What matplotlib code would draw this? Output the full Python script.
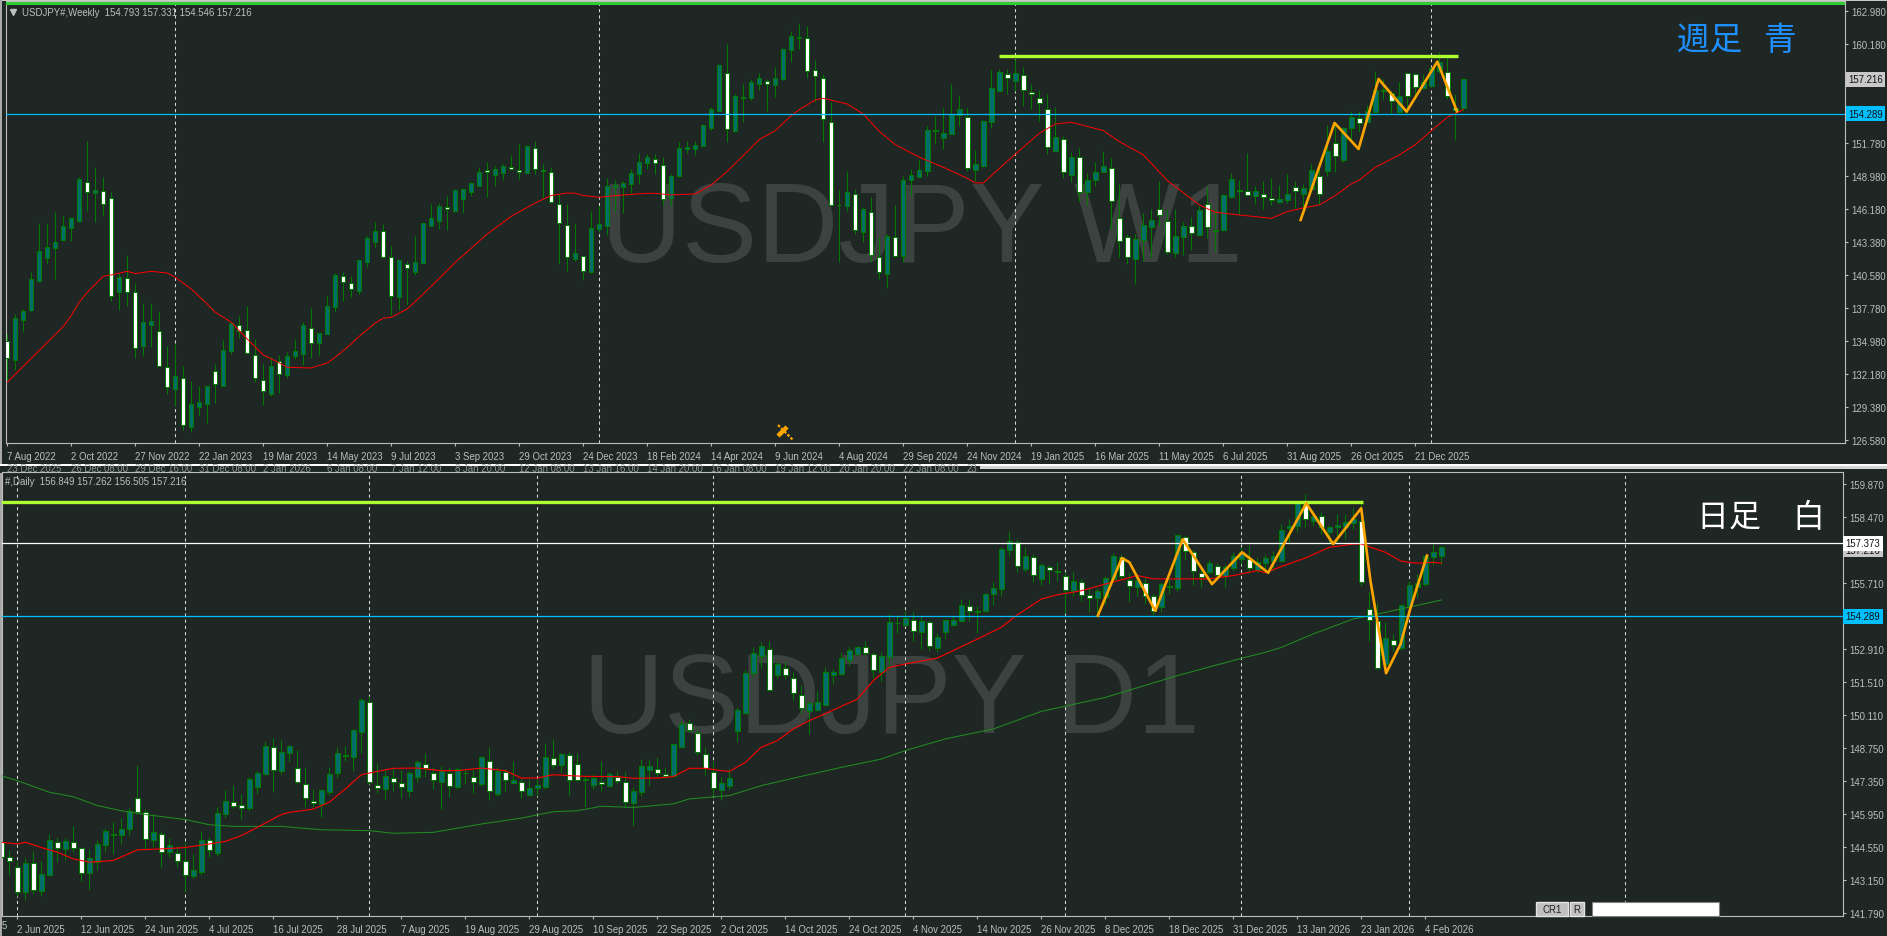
#!/usr/bin/env python
"""MT4 style USDJPY weekly and daily candle charts, one above the other."""

import numpy as np
import matplotlib

matplotlib.use("Agg")
import matplotlib.pyplot as plt
from matplotlib.patches import Rectangle

W, H = 1887, 937
BG = "#1E2724"
AXIS = "#BDBDBD"
TEXT = "#B9C1C1"
WICK = "#007A00"
BODY_UP = "#006F6A"
BODY_DOWN = "#FFFFFF"
ORANGE = "#FFA500"
LIME = "#ADFF2F"
BLUE = "#00BFFF"
UI_FONT = ["Liberation Sans", "DejaVu Sans"]
UI_SIZE = 6.9

# weekly candles: T = up (teal), W = down (white)
w_dir = (
    "WTTTTTTTTT" "WTWWTWWTTW" "WTWTTTWTTW" "WWWTWTTTWT" "TTWWTTTWWT" "WTTTTWTTTT"
    "WTTWWTWWWW" "WTWTTTTTTT" "TWWTTTTTTT" "WTTTTWTTTT" "WWWWTTWTWW" "TWTTTTTTTT"
    "WTTTTWTWWW" "WTWTWTTTWW" "WTTTWWTTWT" "WTTTWWTWWT" "TWTTWTWTTW" "TTTWTWWTTT"
    "WWT"
)
w_top = [
    135.04, 136.94, 137.53, 140.25, 142.62, 142.96, 143.39, 144.74, 145.42, 148.73,
    148.53, 147.80, 147.77, 147.18, 140.42, 140.33, 139.20, 136.60, 136.68, 135.89,
    132.84, 132.07, 131.90, 129.64, 129.87, 131.22, 132.50, 134.22, 136.51, 136.37,
    135.97, 133.85, 131.73, 132.87, 133.35, 133.77, 134.14, 136.34, 136.12, 135.72,
    137.96, 140.59, 140.56, 139.96, 141.86, 143.72, 144.32, 144.37, 142.17, 141.86,
    141.57, 141.69, 144.99, 145.42, 146.44, 146.41, 147.80, 147.91, 148.42, 149.32,
    149.55, 149.58, 149.83, 149.80, 149.55, 151.53, 151.42, 149.55, 149.38, 146.67,
    144.86, 142.45, 142.25, 144.57, 144.91, 148.14, 148.25, 148.42, 149.27, 150.17,
    150.60, 150.48, 149.97, 149.04, 151.42, 151.45, 151.62, 153.31, 154.67, 158.40,
    157.78, 155.77, 155.69, 156.96, 157.30, 157.10, 157.30, 159.76, 160.86, 160.78,
    160.75, 158.03, 157.36, 153.62, 146.58, 147.63, 147.51, 146.19, 145.99, 142.17,
    143.89, 143.87, 148.65, 149.13, 149.49, 152.89, 152.94, 152.63, 154.27, 154.67,
    154.05, 150.00, 153.65, 156.45, 157.81, 157.70, 157.72, 157.61, 156.17, 155.66,
    154.73, 152.29, 152.18, 150.60, 150.65, 148.70, 149.38, 149.83, 149.72, 145.48,
    143.84, 143.64, 144.88, 145.31, 146.24, 145.20, 143.95, 144.80, 144.77, 146.10,
    146.61, 144.40, 147.43, 148.79, 147.85, 147.77, 147.71, 147.49, 147.18, 147.03,
    147.46, 148.11, 147.97, 149.49, 149.04, 151.16, 151.81, 153.06, 153.99, 153.96,
    154.56, 156.34, 156.31, 156.03, 155.83, 157.72, 157.70, 156.96, 158.15, 158.65,
    157.86, 154.78, 157.216,
]
w_bot = [
    133.54, 133.43, 136.82, 137.67, 140.13, 142.08, 142.88, 143.61, 144.63, 145.22,
    147.66, 147.60, 146.61, 138.80, 139.14, 139.14, 134.39, 134.56, 136.40, 132.87,
    131.08, 130.91, 127.86, 127.75, 129.44, 129.70, 131.40, 131.22, 134.20, 135.83,
    133.99, 131.85, 130.74, 130.55, 132.19, 132.16, 133.77, 133.94, 134.82, 134.82,
    135.64, 137.93, 139.99, 139.40, 139.28, 141.69, 143.44, 142.11, 138.80, 138.72,
    141.18, 140.90, 141.63, 144.80, 145.22, 146.19, 146.07, 147.03, 147.68, 148.19,
    149.32, 149.07, 149.30, 149.58, 149.32, 149.30, 149.58, 149.41, 146.78, 145.00,
    142.11, 142.00, 140.98, 140.84, 144.49, 144.80, 148.11, 148.11, 148.36, 149.21,
    150.09, 150.12, 147.06, 147.15, 149.04, 151.33, 151.28, 151.59, 153.06, 154.56,
    152.97, 152.86, 155.60, 155.60, 156.85, 156.79, 156.76, 157.27, 159.73, 160.72,
    157.92, 157.47, 153.85, 146.52, 146.52, 146.50, 144.40, 144.26, 142.31, 140.84,
    140.73, 142.20, 142.20, 148.67, 148.96, 149.47, 152.86, 152.27, 152.60, 154.22,
    149.66, 149.55, 149.89, 153.62, 156.25, 157.30, 157.10, 156.28, 155.94, 155.18,
    151.47, 151.16, 149.32, 149.13, 147.66, 147.63, 148.70, 149.38, 146.89, 143.50,
    142.11, 142.00, 143.56, 144.66, 145.70, 142.54, 142.45, 143.81, 144.18, 143.98,
    144.66, 144.32, 144.43, 147.20, 147.71, 147.37, 147.29, 147.20, 146.95, 146.84,
    147.01, 147.71, 147.51, 147.91, 147.49, 149.47, 150.71, 150.40, 153.06, 153.51,
    153.62, 154.44, 156.20, 155.38, 154.41, 155.77, 156.54, 156.45, 156.68, 157.95,
    155.80, 154.64, 154.793,
]
w_high = [
    135.61, 137.31, 137.73, 140.84, 145.03, 145.03, 145.93, 145.65, 145.51, 148.90,
    151.95, 149.75, 148.93, 147.63, 140.78, 142.31, 139.94, 138.24, 138.24, 137.53,
    134.56, 134.76, 132.87, 131.59, 131.17, 131.22, 133.06, 135.13, 136.54, 137.11,
    137.96, 135.19, 133.06, 133.63, 133.83, 134.05, 135.19, 136.60, 137.79, 135.72,
    138.80, 140.78, 140.90, 140.50, 141.91, 143.89, 145.08, 144.91, 143.05, 141.86,
    141.83, 143.89, 144.99, 146.61, 146.72, 147.35, 147.91, 147.97, 148.48, 149.75,
    150.17, 149.89, 150.03, 150.80, 151.73, 151.64, 151.95, 150.03, 149.75, 147.49,
    146.64, 145.03, 142.25, 146.04, 146.50, 148.81, 148.70, 148.62, 149.61, 150.97,
    150.88, 150.88, 150.60, 149.18, 151.87, 152.01, 152.01, 153.40, 154.84, 158.52,
    160.21, 155.97, 156.82, 157.24, 157.75, 157.24, 158.23, 159.84, 161.29, 161.99,
    161.77, 158.85, 157.67, 155.26, 147.85, 149.41, 147.91, 146.36, 147.20, 143.81,
    144.09, 146.55, 148.99, 149.61, 150.40, 153.23, 154.13, 154.78, 156.82, 155.89,
    154.78, 151.25, 153.79, 158.03, 158.09, 158.09, 158.94, 158.23, 156.82, 156.34,
    155.97, 154.84, 152.38, 151.02, 151.36, 149.27, 150.17, 151.16, 150.51, 148.34,
    144.09, 144.09, 145.87, 146.21, 148.62, 146.21, 146.21, 145.08, 145.51, 146.50,
    148.05, 146.21, 147.49, 149.27, 148.67, 150.94, 148.19, 148.59, 148.84, 148.25,
    149.18, 148.59, 148.31, 150.03, 149.75, 153.34, 153.57, 153.14, 154.53, 154.53,
    155.04, 157.92, 157.24, 156.25, 156.96, 157.81, 157.75, 157.67, 158.23, 159.56,
    159.31, 155.97, 157.331,
]
w_low = [
    131.65, 132.58, 135.81, 137.50, 140.05, 141.55, 140.27, 143.50, 143.50, 145.14,
    146.05, 145.14, 145.65, 138.44, 137.67, 138.01, 133.57, 133.77, 134.48, 132.87,
    130.52, 129.53, 127.46, 127.27, 128.62, 128.06, 129.75, 131.17, 133.91, 135.27,
    133.91, 131.56, 129.61, 130.38, 130.60, 131.85, 133.49, 132.98, 133.54, 133.83,
    135.64, 137.50, 138.44, 138.78, 139.00, 141.26, 142.93, 142.03, 137.25, 137.67,
    138.07, 140.61, 141.55, 144.74, 144.52, 144.46, 145.99, 145.87, 147.35, 148.14,
    147.23, 148.16, 148.67, 149.55, 148.76, 149.27, 149.18, 147.15, 146.72, 141.55,
    140.98, 141.83, 140.22, 140.78, 144.23, 144.01, 145.93, 145.87, 147.57, 148.33,
    149.61, 149.18, 146.55, 146.50, 148.90, 150.97, 150.80, 151.53, 152.94, 154.50,
    151.87, 152.77, 153.57, 155.46, 156.31, 154.56, 155.74, 157.16, 158.71, 159.79,
    157.36, 155.26, 151.92, 146.44, 141.69, 146.07, 144.06, 143.44, 141.69, 140.27,
    139.54, 142.11, 141.69, 147.35, 148.90, 149.04, 151.73, 151.30, 152.57, 153.28,
    149.47, 148.62, 149.80, 153.06, 156.20, 155.97, 156.25, 154.98, 154.70, 153.71,
    150.88, 151.11, 148.84, 148.47, 146.92, 146.55, 148.19, 149.38, 144.52, 142.11,
    141.55, 139.85, 141.83, 142.11, 144.80, 142.40, 142.11, 142.31, 142.76, 143.92,
    143.75, 142.68, 144.38, 147.12, 145.79, 147.35, 146.64, 146.21, 146.58, 146.75,
    146.72, 146.27, 146.21, 147.77, 146.55, 149.04, 149.38, 150.23, 151.93, 152.72,
    153.57, 154.36, 155.55, 154.33, 154.36, 154.36, 155.69, 156.39, 156.62, 157.75,
    155.55, 152.09, 154.546,
]
w_ma_bar = [
    0, 3, 7, 8, 9, 10, 12, 13, 15, 16, 18, 20, 21, 23, 25, 26, 28, 30, 32, 34, 35, 38,
    40, 41, 43, 44, 46, 47, 48, 50, 52, 54, 56, 58, 60, 63, 66, 68, 70, 71, 72, 74, 76,
    80, 81, 83, 86, 88, 90, 92, 94, 96, 98, 99, 101, 102, 105, 107, 109, 111, 114, 117,
    120, 121, 122, 125, 127, 129, 131, 133, 137, 139, 142, 145, 149, 151, 154, 156,
    158, 160, 162, 164, 166, 168, 169, 171, 174, 176, 178, 180, 182,
]
w_ma_val = [
    131.51, 133.54, 136.23, 137.16, 138.30, 139.14, 140.50, 140.61, 140.92, 140.73,
    140.92, 140.78, 140.42, 139.42, 138.15, 137.45, 136.60, 135.18, 133.83, 133.15,
    132.78, 132.72, 133.15, 133.63, 134.76, 135.41, 136.54, 136.94, 137.02, 137.73,
    139.00, 140.33, 141.69, 142.88, 144.09, 145.59, 146.72, 147.35, 147.57, 147.54,
    147.35, 147.20, 147.35, 147.54, 147.54, 147.40, 147.49, 148.25, 149.41, 150.74,
    152.10, 152.86, 154.13, 154.64, 155.46, 155.60, 155.12, 154.27, 152.80, 151.67,
    150.60, 149.75, 148.81, 148.42, 148.42, 150.26, 151.45, 152.63, 153.42, 153.57,
    152.86, 151.93, 150.80, 148.62, 146.55, 145.93, 145.70, 145.56, 145.42, 145.99,
    146.30, 146.55, 147.35, 148.34, 148.67, 149.75, 150.80, 151.67, 152.86, 153.99,
    154.64,
]
w_zig_bar = [161.66, 165.9, 168.9, 171.4, 174.9, 178.75, 181.2]
w_zig_val = [145.28, 153.51, 151.30, 157.24, 154.47, 158.71, 154.50]
w_lime_bar = [123.95, 181.3]
w_lime_val = 159.17
w_top_line = 163.66
w_bid_line = 154.289
w_last = 157.216
w_sep_bars = [21, 74, 126, 178]
w_tick_bars = list(range(0, 177, 8))
w_tick_labels = [
    "7 Aug 2022", "2 Oct 2022", "27 Nov 2022", "22 Jan 2023", "19 Mar 2023", "14 May 2023",
    "9 Jul 2023", "3 Sep 2023", "29 Oct 2023", "24 Dec 2023", "18 Feb 2024", "14 Apr 2024",
    "9 Jun 2024", "4 Aug 2024", "29 Sep 2024", "24 Nov 2024", "19 Jan 2025", "16 Mar 2025",
    "11 May 2025", "6 Jul 2025", "31 Aug 2025", "26 Oct 2025", "21 Dec 2025",
]
w_price_ticks = [162.98, 160.18, 151.78, 148.98, 146.18, 143.38, 140.58, 137.78, 134.98, 132.18, 129.38, 126.58]

# daily candles
d_dir = (
    "WWWTWTTWTW" "WTTTTTTWWT" "WTWWTTWTTW" "WTTTWTTWWW" "TTTTTTWWTW" "WTTWWTWTTW"
    "TWTWTWTTTW" "TWWTTWTWWT" "TTWWTTWWWW" "TTTTTTWTWW" "WTTTTTTTWW" "TTTTWTWTTT"
    "TWTTTTTWTW" "TWWWTWWTTT" "WWTWWTWTWW" "WTWTTTWTTT" "TTTWTWTTTT" "WWWTWTTTTT"
    "T"
)
d_top = [
    144.76, 144.13, 143.73, 143.87, 143.87, 143.41, 144.84, 144.79, 144.80, 144.79,
    144.51, 144.08, 144.67, 145.22, 145.13, 145.31, 146.07, 146.61, 146.05, 145.18,
    145.12, 144.63, 144.30, 143.96, 143.58, 144.87, 144.87, 145.98, 146.49, 146.47,
    146.32, 147.42, 147.67, 148.81, 148.79, 148.55, 148.81, 147.88, 147.22, 146.52,
    146.95, 147.63, 148.51, 148.43, 149.48, 150.76, 150.66, 147.19, 147.54, 147.49,
    147.28, 147.67, 148.13, 148.07, 147.70, 147.77, 147.70, 147.84, 147.70, 147.53,
    148.34, 148.20, 147.78, 147.73, 147.37, 147.32, 147.04, 147.16, 148.34, 148.32,
    148.47, 148.46, 148.08, 147.42, 147.46, 147.32, 147.66, 147.53, 147.30, 146.91,
    147.96, 147.96, 147.87, 147.64, 148.89, 149.75, 149.78, 149.38, 148.48, 147.74,
    147.25, 147.46, 150.33, 151.89, 152.76, 153.05, 152.93, 152.27, 152.13, 151.70,
    150.99, 150.62, 150.69, 151.93, 151.93, 152.55, 152.86, 152.98, 153.01, 152.70,
    152.60, 154.04, 154.02, 154.21, 154.14, 154.08, 154.05, 153.41, 154.12, 154.12,
    154.75, 154.74, 154.50, 155.22, 155.47, 157.12, 157.45, 157.44, 156.85, 156.81,
    156.44, 156.39, 156.22, 156.01, 155.77, 155.75, 155.20, 155.35, 155.89, 156.82,
    156.81, 155.82, 155.82, 155.71, 155.16, 155.65, 155.58, 157.71, 157.65, 156.99,
    156.13, 156.53, 156.41, 156.36, 156.82, 156.99, 156.71, 156.60, 156.74, 156.82,
    157.92, 158.09, 159.10, 159.06, 158.54, 158.52, 158.04, 158.13, 158.26, 158.40,
    158.33, 154.61, 154.11, 153.36, 153.31, 154.75, 155.60, 155.70, 156.85, 156.99,
    157.216,
]
d_bot = [
    144.15, 143.96, 142.65, 142.65, 142.73, 142.72, 143.40, 144.51, 144.49, 144.51,
    143.45, 143.45, 143.94, 144.66, 145.08, 145.08, 145.34, 146.05, 144.89, 144.87,
    144.35, 144.34, 143.96, 143.37, 143.35, 143.52, 144.44, 144.32, 145.97, 146.28,
    146.21, 146.21, 147.11, 147.66, 147.79, 147.78, 148.51, 147.29, 146.61, 146.40,
    146.39, 146.90, 147.70, 148.40, 148.37, 149.43, 147.31, 147.04, 147.01, 147.32,
    147.08, 146.94, 147.50, 147.88, 147.39, 147.32, 147.12, 147.11, 147.67, 147.29,
    147.20, 146.91, 146.81, 147.37, 147.28, 146.91, 146.77, 147.04, 147.11, 148.03,
    148.03, 147.39, 147.40, 147.37, 147.19, 147.22, 147.12, 147.33, 146.46, 146.43,
    146.87, 147.82, 147.67, 147.54, 147.57, 148.79, 149.48, 148.55, 147.89, 147.04,
    146.98, 147.15, 149.47, 150.21, 151.89, 152.60, 151.17, 151.83, 151.80, 151.04,
    150.41, 150.31, 150.35, 150.57, 151.83, 151.86, 152.46, 152.72, 152.73, 152.03,
    151.96, 152.59, 154.00, 153.94, 153.67, 153.62, 153.03, 152.94, 153.62, 153.94,
    154.11, 154.52, 154.46, 154.50, 155.22, 155.43, 157.10, 156.41, 156.27, 156.03,
    155.88, 156.25, 156.15, 155.39, 155.37, 155.19, 155.06, 155.05, 155.09, 155.87,
    155.98, 155.57, 155.51, 155.16, 154.53, 154.67, 155.53, 155.50, 157.05, 156.20,
    155.94, 156.18, 156.03, 156.01, 156.33, 156.71, 156.33, 156.25, 156.54, 156.64,
    156.64, 158.02, 158.09, 158.40, 158.33, 158.04, 157.85, 158.04, 158.04, 158.21,
    155.73, 154.14, 152.10, 152.28, 153.08, 152.94, 154.74, 155.51, 155.67, 156.81,
    156.849,
]
d_high = [
    144.83, 144.44, 143.99, 144.10, 144.38, 143.99, 145.11, 144.97, 144.94, 145.43,
    144.55, 144.48, 144.86, 145.36, 145.60, 145.79, 146.19, 148.02, 146.16, 145.95,
    145.25, 144.94, 144.62, 144.76, 144.27, 145.22, 144.99, 146.23, 146.97, 147.18,
    146.80, 147.53, 147.75, 149.05, 149.16, 149.07, 148.88, 148.65, 147.95, 147.01,
    147.01, 147.95, 148.79, 148.84, 149.54, 150.85, 150.94, 148.10, 147.81, 147.85,
    147.81, 147.81, 148.23, 148.53, 147.92, 147.99, 147.92, 147.92, 147.85, 147.81,
    148.41, 148.77, 147.92, 147.85, 148.18, 147.43, 147.43, 147.43, 148.93, 149.10,
    148.51, 148.55, 148.54, 147.57, 147.64, 148.18, 147.71, 147.78, 147.71, 147.08,
    148.27, 148.27, 148.34, 147.92, 148.91, 149.89, 149.95, 149.54, 148.79, 148.20,
    147.50, 147.85, 150.45, 152.03, 152.98, 153.22, 153.24, 152.35, 152.42, 151.93,
    151.39, 150.71, 151.16, 152.14, 152.07, 152.77, 153.01, 153.04, 153.24, 152.77,
    152.77, 154.39, 154.36, 154.53, 154.46, 154.28, 154.14, 153.57, 154.18, 154.32,
    155.02, 155.02, 154.74, 155.27, 155.73, 157.20, 157.90, 157.55, 157.20, 156.92,
    156.54, 156.46, 156.57, 156.15, 156.15, 155.87, 155.49, 155.49, 155.98, 156.95,
    156.92, 156.15, 155.96, 155.94, 155.23, 155.72, 155.87, 157.76, 157.69, 157.13,
    156.43, 156.67, 156.53, 156.50, 156.99, 157.23, 157.30, 156.78, 156.92, 157.03,
    158.19, 158.40, 159.20, 159.45, 158.75, 158.68, 158.14, 158.61, 158.61, 158.92,
    159.20, 155.30, 154.84, 154.07, 153.55, 154.81, 155.80, 156.08, 156.89, 157.34,
    157.262,
]
d_low = [
    144.13, 143.40, 142.51, 142.34, 142.58, 142.51, 143.35, 143.94, 144.01, 144.34,
    143.14, 142.75, 143.61, 144.37, 144.27, 144.69, 145.08, 145.95, 144.48, 144.58,
    143.73, 144.15, 143.73, 142.65, 143.25, 143.40, 144.15, 144.20, 145.79, 146.21,
    145.74, 146.09, 146.80, 147.61, 146.87, 147.64, 148.13, 147.22, 146.23, 146.23,
    145.84, 146.77, 147.47, 148.17, 147.78, 148.53, 147.22, 146.84, 146.59, 146.94,
    146.63, 146.68, 147.32, 147.50, 147.01, 146.16, 146.66, 147.01, 147.22, 146.84,
    147.15, 146.54, 146.73, 146.91, 147.25, 146.63, 146.70, 146.73, 147.01, 147.85,
    147.71, 146.77, 147.33, 146.23, 147.01, 146.94, 147.08, 147.22, 146.23, 145.46,
    146.70, 147.15, 147.57, 147.50, 147.53, 148.77, 149.40, 148.46, 147.61, 146.70,
    146.56, 147.01, 149.00, 150.17, 151.72, 152.10, 151.13, 151.69, 151.65, 150.76,
    150.20, 149.33, 150.28, 150.52, 151.44, 151.83, 152.21, 152.67, 152.67, 151.69,
    151.58, 152.11, 153.59, 153.90, 153.27, 152.91, 152.82, 152.77, 153.33, 153.90,
    154.04, 154.11, 153.59, 154.46, 154.78, 155.16, 156.85, 156.17, 156.15, 155.73,
    155.62, 155.65, 155.80, 154.43, 155.16, 154.95, 154.46, 154.36, 154.81, 155.82,
    155.87, 154.91, 155.16, 154.81, 154.36, 154.49, 155.23, 155.37, 156.68, 155.63,
    155.51, 156.08, 155.94, 155.54, 156.22, 156.50, 156.15, 156.15, 156.15, 156.22,
    156.61, 157.34, 157.83, 158.04, 158.11, 157.76, 157.34, 157.41, 157.55, 157.97,
    155.59, 153.27, 152.06, 151.93, 152.84, 152.87, 154.67, 155.09, 155.59, 156.46,
    156.505,
]
d_ma_bar = [
    0, 2, 3, 5, 7, 9, 11, 14, 17, 20, 23, 26, 28, 30, 32, 35, 36, 39, 41, 43, 45, 47, 49,
    52, 55, 57, 60, 63, 65, 67, 69, 71, 73, 77, 79, 82, 84, 86, 88, 90, 91, 93, 95, 97, 99,
    101, 104, 107, 109, 111, 113, 117, 122, 125, 127, 130, 132, 135, 138, 142, 144, 147,
    151, 154, 157, 158, 160, 163, 166, 169, 170, 173, 175, 177, 179, 180,
]
d_ma_val = [
    144.76, 144.69, 144.76, 144.54, 144.34, 144.06, 143.92, 143.99, 144.44, 144.48,
    144.54, 144.69, 144.80, 145.04, 145.39, 145.93, 146.02, 146.16, 146.45, 147.01,
    147.61, 147.75, 147.88, 147.89, 147.78, 147.78, 147.89, 147.78, 147.47, 147.47,
    147.61, 147.57, 147.54, 147.53, 147.46, 147.47, 147.53, 147.88, 147.88, 147.78,
    147.75, 148.13, 148.77, 149.05, 149.54, 149.89, 150.34, 150.80, 151.58, 152.14,
    152.28, 152.53, 153.33, 153.83, 154.35, 155.02, 155.20, 155.37, 155.65, 156.01,
    155.87, 155.87, 155.87, 156.01, 156.22, 156.13, 156.39, 156.75, 157.20, 157.34,
    157.34, 156.99, 156.61, 156.53, 156.57, 156.53,
]
d_ma2_bar = [
    0, 2, 6, 9, 12, 15, 18, 23, 26, 29, 35, 40, 46, 49, 54, 60, 65, 69, 72, 75, 79, 84, 86,
    91, 95, 100, 105, 110, 113, 118, 124, 130, 138, 147, 155, 158, 160, 164, 169, 174, 180,
]
d_ma2_val = [
    147.57, 147.36, 146.87, 146.68, 146.31, 146.09, 145.93, 145.72, 145.50, 145.43,
    145.43, 145.29, 145.25, 145.14, 145.18, 145.53, 145.78, 146.05, 146.09, 146.28,
    146.23, 146.38, 146.59, 146.73, 147.15, 147.54, 147.92, 148.27, 148.63, 149.12,
    149.54, 150.28, 150.87, 151.79, 152.52, 152.77, 152.98, 153.55, 154.18, 154.53,
    154.98,
]
d_zig_bar = [137.06, 140.07, 141, 144.24, 147.66, 151.33, 155.09, 158.35, 163.11, 166.47, 169.98, 171.13, 173.09, 174.9, 176.1, 178.2]
d_zig_val = [154.32, 156.75, 156.57, 154.52, 157.54, 155.65, 156.99, 156.13, 159.06, 157.34, 158.85, 155.80, 151.89, 153.12, 154.60, 156.85]
d_lime_bar = [-1, 170.2]
d_lime_val = 159.10
d_white_line = 157.373
d_bid_line = 154.289
d_last = 157.216
d_sep_bars = [2, 23, 46, 67, 89, 113, 133, 155, 176, 203]
d_tick_bars = list(range(2, 179, 8))
d_tick_labels = [
    "2 Jun 2025", "12 Jun 2025", "24 Jun 2025", "4 Jul 2025", "16 Jul 2025", "28 Jul 2025",
    "7 Aug 2025", "19 Aug 2025", "29 Aug 2025", "10 Sep 2025", "22 Sep 2025", "2 Oct 2025",
    "14 Oct 2025", "24 Oct 2025", "4 Nov 2025", "14 Nov 2025", "26 Nov 2025", "8 Dec 2025",
    "18 Dec 2025", "31 Dec 2025", "13 Jan 2026", "23 Jan 2026", "4 Feb 2026",
]
d_price_ticks = [159.87, 158.47, 155.71, 152.91, 151.51, 150.11, 148.75, 147.35, 145.95, 144.55, 143.15, 141.79]
strip_labels = [
    "23 Dec 2025", "26 Dec 08:00", "29 Dec 16:00", "31 Dec 08:00", "2 Jan 2026", "6 Jan 08:00",
    "7 Jan 12:00", "8 Jan 20:00", "12 Jan 08:00", "13 Jan 16:00", "14 Jan 20:00", "16 Jan 08:00",
    "19 Jan 12:00", "20 Jan 20:00", "22 Jan 08:00", "23",
]


def px_axes(fig, left, top, right, bottom):
    return fig.add_axes([left / W, 1 - bottom / H, (right - left) / W, (bottom - top) / H])


def draw_candles(ax, dirs, top, bot, high, low):
    x = np.arange(len(top))
    top, bot = np.array(top), np.array(bot)
    colors = [BODY_DOWN if d == "W" else BODY_UP for d in dirs]
    ax.vlines(x, low, high, color=WICK, lw=0.75, zorder=3)
    ax.bar(x, top - bot, bottom=bot, width=0.55, color=colors, edgecolor=WICK, linewidth=0.75, zorder=3.5)


def style_panel(ax, bars, labels, ticks):
    ax.set_facecolor(BG)
    for spine in ax.spines.values():
        spine.set_color(AXIS)
        spine.set_linewidth(0.8)
    ax.yaxis.tick_right()
    ax.set_xticks(bars)
    ax.set_xticklabels(labels, ha="left", fontsize=UI_SIZE, color=TEXT, family=UI_FONT)
    ax.set_yticks(ticks)
    ax.set_yticklabels([f"{t:.3f}" for t in ticks], fontsize=UI_SIZE, color=TEXT, family=UI_FONT)
    ax.tick_params(axis="x", length=2.5, width=0.8, color=AXIS, pad=3)
    ax.tick_params(axis="y", length=2.5, width=0.8, color=AXIS, pad=2)


def price_box(ax, price, label, face, x=1.0018):
    ax.text(
        x, price, label, transform=ax.get_yaxis_transform(), ha="left", va="center", fontsize=UI_SIZE,
        color="#101010", family=UI_FONT, zorder=9, clip_on=False,
        bbox=dict(facecolor=face, edgecolor="none", boxstyle="square,pad=0.25"),
    )


def main():
    fig = plt.figure(figsize=(W / 100, H / 100), dpi=100, facecolor=BG)

    # weekly panel
    ax1 = px_axes(fig, 6, 2.3, 1845, 444.3)
    ax1.set_xlim(-0.15, 229.7)
    ax1.set_ylim(126.33, 163.83)
    style_panel(ax1, w_tick_bars, w_tick_labels, w_price_ticks)
    ax1.text(0.3235, 0.4125, "USDJPY W1", transform=ax1.transAxes, fontsize=81, color="#3C4240",
             family="Liberation Sans", ha="left", va="baseline", zorder=0.5)
    for b in w_sep_bars:
        ax1.axvline(b, color="#D8D8D8", lw=0.75, ls=(0, (3, 3)), zorder=1)
    draw_candles(ax1, w_dir, w_top, w_bot, w_high, w_low)
    ax1.plot(w_ma_bar, w_ma_val, color="#FF0000", lw=0.7, zorder=4)
    ax1.axhline(w_bid_line, color=BLUE, lw=0.9, zorder=5)
    ax1.axhline(w_top_line, color="#32CD32", lw=2.2, zorder=5)
    ax1.plot(w_lime_bar, [w_lime_val, w_lime_val], color=LIME, lw=2.4, solid_capstyle="butt", zorder=5)
    ax1.plot(w_zig_bar, w_zig_val, color=ORANGE, lw=1.9, zorder=6)
    price_box(ax1, w_last, "157.216", "#C8C8C8")
    price_box(ax1, w_bid_line, "154.289", BLUE)

    # daily panel
    ax2 = px_axes(fig, 2, 473.3, 1843, 917.3)
    ax2.set_xlim(0.0875, 230.2)
    ax2.set_ylim(141.638, 160.365)
    style_panel(ax2, d_tick_bars, d_tick_labels, d_price_ticks)
    ax2.text(0.3155, 0.415, "USDJPY D1", transform=ax2.transAxes, fontsize=81, color="#3C4240",
             family="Liberation Sans", ha="left", va="baseline", zorder=0.5)
    for b in d_sep_bars:
        ax2.axvline(b, color="#D8D8D8", lw=0.75, ls=(0, (3, 3)), zorder=1)
    draw_candles(ax2, d_dir, d_top, d_bot, d_high, d_low)
    ax2.plot(d_ma2_bar, d_ma2_val, color="#228B22", lw=0.75, zorder=4)
    ax2.plot(d_ma_bar, d_ma_val, color="#FF0000", lw=0.8, zorder=4)
    ax2.axhline(d_bid_line, color=BLUE, lw=0.9, zorder=5)
    ax2.axhline(d_white_line, color="#FFFFFF", lw=0.9, zorder=5)
    ax2.plot(d_lime_bar, [d_lime_val, d_lime_val], color=LIME, lw=2.4, solid_capstyle="butt", zorder=5)
    ax2.plot(d_zig_bar, d_zig_val, color=ORANGE, lw=1.9, zorder=6)
    price_box(ax2, d_last - 0.12, "157.216", "#C8C8C8", x=1.0015)
    price_box(ax2, d_white_line, "157.373", "#FFFFFF", x=1.0015)
    price_box(ax2, d_bid_line, "154.289", BLUE, x=1.0015)

    # window chrome, in pixels
    ui = fig.add_axes([0, 0, 1, 1], facecolor="none", zorder=10)
    ui.set_xlim(0, W)
    ui.set_ylim(H, 0)
    ui.axis("off")
    ui.add_patch(Rectangle((0, 0), W, 2, color="#C8C8C8", lw=0))
    ui.add_patch(Rectangle((0, 0), 2, 465, color="#A8A8A8", lw=0))
    ui.add_patch(Rectangle((0, 474), 1.5, 463, color="#A8A8A8", lw=0))
    ui.add_patch(Rectangle((0, 465), W, 1.8, color="#FFFFFF", lw=0))
    ui.add_patch(Rectangle((980, 467), W - 980, 3, color="#D4D4D4", lw=0))
    clip = Rectangle((0, 467), 980, 3.4, transform=ui.transData)
    for i, lab in enumerate(strip_labels):
        t = ui.text(7 + 64 * i, 472.5, lab, fontsize=UI_SIZE, color="#8F9696", family=UI_FONT,
                    ha="left", va="baseline")
        t.set_clip_path(clip)

    ui.text(2, 926.5, "5", fontsize=UI_SIZE, color=TEXT, family=UI_FONT, ha="left", va="center")
    ui.text(22, 12.5, "USDJPY#,Weekly  154.793 157.331 154.546 157.216", fontsize=UI_SIZE, color=TEXT,
            family=UI_FONT, ha="left", va="center")
    ui.plot([13], [12.5], marker="v", ms=4.5, color=TEXT, ls="none")
    ui.text(5, 482, "#,Daily  156.849 157.262 156.505 157.216", fontsize=UI_SIZE, color=TEXT,
            family=UI_FONT, ha="left", va="center")
    ui.text(1677, 41, "週足   青", fontsize=23.5, color="#1E90FF", family=["Noto Sans CJK JP"],
            ha="left", va="center")
    ui.text(1697, 518, "日足　白", fontsize=23, color="#FFFFFF", family=["Noto Sans CJK JP"],
            ha="left", va="center")

    # CR1 / R buttons and the empty input box
    ui.add_patch(Rectangle((1536, 903), 32, 14, facecolor="#C0C0C0", edgecolor="#E4E4E4", lw=1))
    ui.add_patch(Rectangle((1570, 903), 14, 14, facecolor="#C0C0C0", edgecolor="#E4E4E4", lw=1))
    ui.add_patch(Rectangle((1592, 903), 127, 14, facecolor="#FFFFFF", edgecolor="#808080", lw=0.8))
    ui.text(1552, 910.5, "CR1", fontsize=UI_SIZE, color="#202020", family=UI_FONT, ha="center", va="center")
    ui.text(1577, 910.5, "R", fontsize=UI_SIZE, color="#202020", family=UI_FONT, ha="center", va="center")

    # pick icon on the weekly chart
    ui.plot([778, 787], [437, 428], color=ORANGE, lw=3.2, solid_capstyle="butt")
    ui.plot([778, 793], [426, 441], color=ORANGE, lw=1.6, ls=(0, (1.2, 0.8)))

    fig.savefig("out.png", dpi=100, facecolor=BG)


if __name__ == "__main__":
    main()
